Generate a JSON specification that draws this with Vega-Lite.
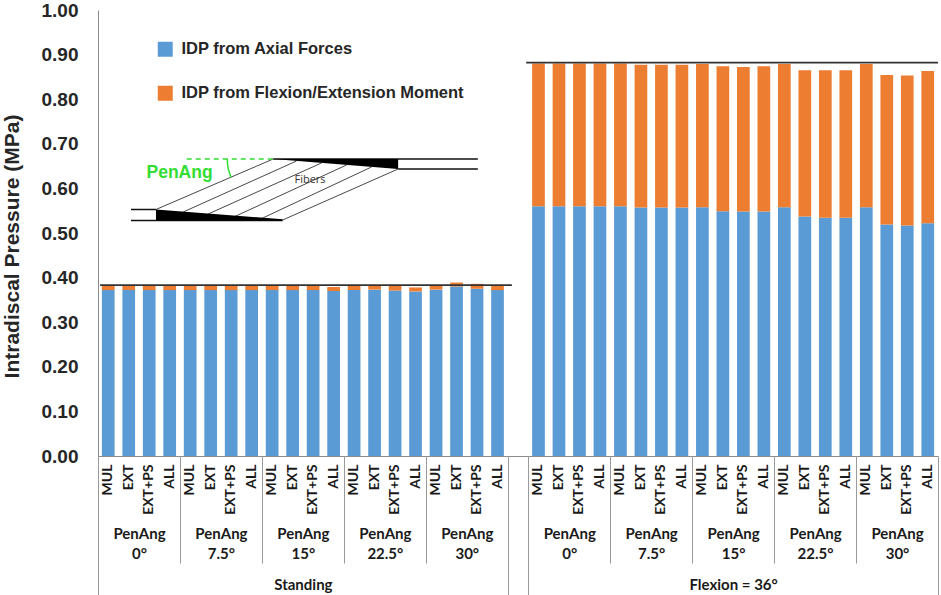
{
  "$schema": "https://vega.github.io/schema/vega-lite/v6.json",
  "width": 840,
  "height": 446,
  "autosize": {"type": "none"},
  "padding": {"left": 98, "top": 10, "right": 3, "bottom": 139},
  "background": "white",
  "config": {"view": {"stroke": null}, "axis": {"grid": false}},
  "datasets": {
    "bars": [
      {"bar": "Standing 0° MUL", "axial": 0.372, "moment": 0.011},
      {"bar": "Standing 0° EXT", "axial": 0.372, "moment": 0.011},
      {"bar": "Standing 0° EXT+PS", "axial": 0.372, "moment": 0.011},
      {"bar": "Standing 0° ALL", "axial": 0.372, "moment": 0.011},
      {"bar": "Standing 7.5° MUL", "axial": 0.372, "moment": 0.011},
      {"bar": "Standing 7.5° EXT", "axial": 0.372, "moment": 0.011},
      {"bar": "Standing 7.5° EXT+PS", "axial": 0.372, "moment": 0.011},
      {"bar": "Standing 7.5° ALL", "axial": 0.372, "moment": 0.011},
      {"bar": "Standing 15° MUL", "axial": 0.372, "moment": 0.011},
      {"bar": "Standing 15° EXT", "axial": 0.372, "moment": 0.011},
      {"bar": "Standing 15° EXT+PS", "axial": 0.372, "moment": 0.011},
      {"bar": "Standing 15° ALL", "axial": 0.370, "moment": 0.009},
      {"bar": "Standing 22.5° MUL", "axial": 0.372, "moment": 0.011},
      {"bar": "Standing 22.5° EXT", "axial": 0.373, "moment": 0.010},
      {"bar": "Standing 22.5° EXT+PS", "axial": 0.371, "moment": 0.012},
      {"bar": "Standing 22.5° ALL", "axial": 0.369, "moment": 0.009},
      {"bar": "Standing 30° MUL", "axial": 0.373, "moment": 0.010},
      {"bar": "Standing 30° EXT", "axial": 0.380, "moment": 0.009},
      {"bar": "Standing 30° EXT+PS", "axial": 0.375, "moment": 0.011},
      {"bar": "Standing 30° ALL", "axial": 0.372, "moment": 0.011},
      {"bar": "Flexion 0° MUL", "axial": 0.560, "moment": 0.320},
      {"bar": "Flexion 0° EXT", "axial": 0.560, "moment": 0.320},
      {"bar": "Flexion 0° EXT+PS", "axial": 0.560, "moment": 0.320},
      {"bar": "Flexion 0° ALL", "axial": 0.560, "moment": 0.320},
      {"bar": "Flexion 7.5° MUL", "axial": 0.560, "moment": 0.320},
      {"bar": "Flexion 7.5° EXT", "axial": 0.557, "moment": 0.320},
      {"bar": "Flexion 7.5° EXT+PS", "axial": 0.557, "moment": 0.320},
      {"bar": "Flexion 7.5° ALL", "axial": 0.557, "moment": 0.320},
      {"bar": "Flexion 15° MUL", "axial": 0.558, "moment": 0.321},
      {"bar": "Flexion 15° EXT", "axial": 0.549, "moment": 0.325},
      {"bar": "Flexion 15° EXT+PS", "axial": 0.548, "moment": 0.324},
      {"bar": "Flexion 15° ALL", "axial": 0.548, "moment": 0.326},
      {"bar": "Flexion 22.5° MUL", "axial": 0.558, "moment": 0.321},
      {"bar": "Flexion 22.5° EXT", "axial": 0.537, "moment": 0.328},
      {"bar": "Flexion 22.5° EXT+PS", "axial": 0.534, "moment": 0.331},
      {"bar": "Flexion 22.5° ALL", "axial": 0.534, "moment": 0.331},
      {"bar": "Flexion 30° MUL", "axial": 0.558, "moment": 0.321},
      {"bar": "Flexion 30° EXT", "axial": 0.519, "moment": 0.335},
      {"bar": "Flexion 30° EXT+PS", "axial": 0.517, "moment": 0.336},
      {"bar": "Flexion 30° ALL", "axial": 0.522, "moment": 0.341}
    ],
    "refs": [
      {"from": 0.1, "to": 20.2, "level": 0.383},
      {"from": 20.9, "to": 41, "level": 0.882}
    ],
    "sketch": [
      {"part": "plate", "x": 8.55, "x2": 18.54, "y": 0.6659, "y2": 0.6659},
      {"part": "plate", "x": 14.65, "x2": 18.54, "y": 0.6435, "y2": 0.6435},
      {"part": "plate", "x": 1.61, "x2": 2.83, "y": 0.5527, "y2": 0.5527},
      {"part": "plate", "x": 1.61, "x2": 9.01, "y": 0.528, "y2": 0.528},
      {"part": "fiber", "x": 2.83, "x2": 8.55, "y": 0.5527, "y2": 0.6659},
      {"part": "fiber", "x": 4.16, "x2": 9.69, "y": 0.5471, "y2": 0.6614},
      {"part": "fiber", "x": 5.38, "x2": 10.91, "y": 0.5426, "y2": 0.657},
      {"part": "fiber", "x": 6.68, "x2": 12.13, "y": 0.537, "y2": 0.6525},
      {"part": "fiber", "x": 7.99, "x2": 13.35, "y": 0.5325, "y2": 0.648},
      {"part": "fiber", "x": 9.01, "x2": 14.65, "y": 0.5291, "y2": 0.6435},
      {"part": "ref", "x": 4.33, "x2": 8.55, "y": 0.6659, "y2": 0.6659}
    ],
    "wedges": [
      {"wedge": "top", "x": 8.55, "y": 0.6659, "y2": 0.6659},
      {"wedge": "top", "x": 14.65, "y": 0.6659, "y2": 0.6435},
      {"wedge": "bottom", "x": 2.83, "y": 0.5527, "y2": 0.528},
      {"wedge": "bottom", "x": 9.01, "y": 0.531, "y2": 0.528}
    ],
    "arc": [
      {"step": 1, "x": 6.31, "y": 0.6659},
      {"step": 2, "x": 6.33, "y": 0.6516},
      {"step": 3, "x": 6.4, "y": 0.6374},
      {"step": 4, "x": 6.5, "y": 0.6251}
    ],
    "notes": [
      {"note": "PenAng", "x": 3.98, "y": 0.6339},
      {"note": "Fibers", "x": 10.35, "y": 0.6188}
    ]
  },
  "resolve": {"scale": {"x": "independent"}},
  "layer": [
    {
      "data": {"name": "bars"},
      "transform": [{"fold": ["axial", "moment"], "as": ["part", "idp"]}],
      "mark": {"type": "bar"},
      "encoding": {
        "x": {
          "field": "bar",
          "type": "nominal",
          "scale": {
            "domain": [
              "Standing 0° MUL", "Standing 0° EXT", "Standing 0° EXT+PS", "Standing 0° ALL",
              "Standing 7.5° MUL", "Standing 7.5° EXT", "Standing 7.5° EXT+PS", "Standing 7.5° ALL",
              "Standing 15° MUL", "Standing 15° EXT", "Standing 15° EXT+PS", "Standing 15° ALL",
              "Standing 22.5° MUL", "Standing 22.5° EXT", "Standing 22.5° EXT+PS", "Standing 22.5° ALL",
              "Standing 30° MUL", "Standing 30° EXT", "Standing 30° EXT+PS", "Standing 30° ALL",
              "gap",
              "Flexion 0° MUL", "Flexion 0° EXT", "Flexion 0° EXT+PS", "Flexion 0° ALL",
              "Flexion 7.5° MUL", "Flexion 7.5° EXT", "Flexion 7.5° EXT+PS", "Flexion 7.5° ALL",
              "Flexion 15° MUL", "Flexion 15° EXT", "Flexion 15° EXT+PS", "Flexion 15° ALL",
              "Flexion 22.5° MUL", "Flexion 22.5° EXT", "Flexion 22.5° EXT+PS", "Flexion 22.5° ALL",
              "Flexion 30° MUL", "Flexion 30° EXT", "Flexion 30° EXT+PS", "Flexion 30° ALL"
            ],
            "paddingInner": 0.38,
            "paddingOuter": 0.19
          },
          "axis": {
            "orient": "bottom",
            "title": null,
            "labelExpr": "datum.value == 'gap' ? '' : split(datum.value, ' ')[2]",
            "labelAngle": -90,
            "labelFont": "Lato",
            "labelFontSize": 14,
            "labelFontWeight": "bold",
            "labelColor": "#1a1a1a",
            "labelPadding": 8,
            "labelOverlap": false,
            "labelBound": false,
            "ticks": false,
            "domainColor": "#8c8c8c"
          }
        },
        "y": {
          "field": "idp",
          "type": "quantitative",
          "stack": "zero",
          "scale": {"domain": [0, 1], "nice": false},
          "axis": {
            "title": "Intradiscal Pressure (MPa)",
            "values": [0, 0.1, 0.2, 0.3, 0.4, 0.5, 0.6, 0.7, 0.8, 0.9, 1],
            "format": ".2f",
            "ticks": false,
            "domainColor": "#8c8c8c",
            "labelFont": "Liberation Sans",
            "labelFontSize": 19,
            "labelFontWeight": "bold",
            "labelColor": "#262626",
            "labelPadding": 20,
            "titleFont": "Liberation Sans",
            "titleFontSize": 21,
            "titleFontWeight": "bold",
            "titleColor": "#262626",
            "titleAngle": 270,
            "titleAlign": "center",
            "titleBaseline": "alphabetic",
            "titleX": -79.5,
            "titleY": 236
          }
        },
        "color": {
          "field": "part",
          "type": "nominal",
          "scale": {"domain": ["axial", "moment"], "range": ["#5B9BD5", "#ED7D31"]},
          "legend": {
            "title": null,
            "orient": "none",
            "legendX": 59,
            "legendY": 31,
            "symbolType": "square",
            "symbolSize": 225,
            "symbolStrokeWidth": 0,
            "labelExpr": "datum.value == 'axial' ? 'IDP from Axial Forces' : 'IDP from Flexion/Extension Moment'",
            "labelFont": "Liberation Sans",
            "labelFontSize": 16.5,
            "labelFontWeight": "bold",
            "labelColor": "#262626",
            "labelOffset": 8,
            "rowPadding": 27,
            "labelLimit": 400
          }
        },
        "order": {"field": "part"}
      }
    },
    {
      "data": {"name": "refs"},
      "mark": {"type": "rule", "color": "#333333", "strokeWidth": 1.8},
      "encoding": {
        "x": {
          "field": "from",
          "type": "quantitative",
          "scale": {"domain": [0, 41], "nice": false, "zero": false},
          "axis": {
            "orient": "bottom",
            "title": null,
            "values": [0, 4, 8, 12, 16, 20, 21, 25, 29, 33, 37, 41],
            "labels": false,
            "domain": false,
            "tickColor": "#9a9a9a",
            "tickWidth": 1,
            "tickSize": {"condition": {"test": "indexof([0, 20, 21, 41], datum.value) >= 0", "value": 139}, "value": 107}
          }
        },
        "x2": {"field": "to"},
        "y": {"field": "level", "type": "quantitative", "scale": {"domain": [0, 1], "nice": false}}
      }
    },
    {
      "data": {"name": "sketch"},
      "transform": [{"filter": "datum.part == 'plate'"}],
      "mark": {"type": "rule", "color": "#111111", "strokeWidth": 1.5},
      "encoding": {
        "x": {
          "field": "x",
          "type": "quantitative",
          "scale": {"domain": [0, 41], "nice": false, "zero": false},
          "axis": {
            "orient": "bottom",
            "title": null,
            "values": [2, 6, 10, 14, 18, 23, 27, 31, 35, 39],
            "ticks": false,
            "domain": false,
            "labelExpr": "['PenAng', ['0°', '7.5°', '15°', '22.5°', '30°'][floor(((datum.value < 20 ? datum.value : datum.value - 21) - 2) / 4)]]",
            "labelFont": "Lato",
            "labelFontSize": 15,
            "labelFontWeight": "bold",
            "labelColor": "#1a1a1a",
            "labelPadding": 70,
            "labelLineHeight": 20,
            "labelOverlap": false,
            "labelBound": false,
            "labelFlush": false
          }
        },
        "x2": {"field": "x2"},
        "y": {"field": "y", "type": "quantitative", "scale": {"domain": [0, 1], "nice": false}},
        "y2": {"field": "y2"}
      }
    },
    {
      "data": {"name": "sketch"},
      "transform": [{"filter": "datum.part == 'fiber'"}],
      "mark": {"type": "rule", "color": "#333333", "strokeWidth": 0.9},
      "encoding": {
        "x": {
          "field": "x",
          "type": "quantitative",
          "scale": {"domain": [0, 41], "nice": false, "zero": false},
          "axis": {
            "orient": "bottom",
            "title": null,
            "values": [10, 31],
            "ticks": false,
            "domain": false,
            "labelExpr": "datum.value < 20 ? 'Standing' : 'Flexion = 36°'",
            "labelFont": "Lato",
            "labelFontSize": 15,
            "labelFontWeight": "bold",
            "labelColor": "#1a1a1a",
            "labelPadding": 121,
            "labelOverlap": false,
            "labelBound": false,
            "labelFlush": false
          }
        },
        "x2": {"field": "x2"},
        "y": {"field": "y", "type": "quantitative", "scale": {"domain": [0, 1], "nice": false}},
        "y2": {"field": "y2"}
      }
    },
    {
      "data": {"name": "sketch"},
      "transform": [{"filter": "datum.part == 'ref'"}],
      "mark": {"type": "rule", "color": "#33dd33", "strokeWidth": 1.5, "strokeDash": [5, 4]},
      "encoding": {
        "x": {"field": "x", "type": "quantitative", "scale": {"domain": [0, 41], "nice": false, "zero": false}, "axis": null},
        "x2": {"field": "x2"},
        "y": {"field": "y", "type": "quantitative", "scale": {"domain": [0, 1], "nice": false}},
        "y2": {"field": "y2"}
      }
    },
    {
      "data": {"name": "wedges"},
      "mark": {"type": "area", "color": "#000000", "opacity": 1},
      "encoding": {
        "x": {"field": "x", "type": "quantitative", "scale": {"domain": [0, 41], "nice": false, "zero": false}, "axis": null},
        "y": {"field": "y", "type": "quantitative", "scale": {"domain": [0, 1], "nice": false}},
        "y2": {"field": "y2"},
        "detail": {"field": "wedge"}
      }
    },
    {
      "data": {"name": "arc"},
      "mark": {"type": "line", "color": "#33dd33", "strokeWidth": 1.5, "interpolate": "monotone"},
      "encoding": {
        "x": {"field": "x", "type": "quantitative", "scale": {"domain": [0, 41], "nice": false, "zero": false}, "axis": null},
        "y": {"field": "y", "type": "quantitative", "scale": {"domain": [0, 1], "nice": false}},
        "order": {"field": "step"}
      }
    },
    {
      "data": {"name": "notes"},
      "transform": [{"filter": "datum.note == 'PenAng'"}],
      "mark": {"type": "text", "color": "#33dd33", "font": "Liberation Sans", "fontSize": 17.5, "fontWeight": "bold", "align": "center", "baseline": "middle"},
      "encoding": {
        "x": {"field": "x", "type": "quantitative", "scale": {"domain": [0, 41], "nice": false, "zero": false}, "axis": null},
        "y": {"field": "y", "type": "quantitative", "scale": {"domain": [0, 1], "nice": false}},
        "text": {"field": "note"}
      }
    },
    {
      "data": {"name": "notes"},
      "transform": [{"filter": "datum.note == 'Fibers'"}],
      "mark": {"type": "text", "color": "#333333", "font": "Open Sans", "fontSize": 11, "align": "center", "baseline": "middle"},
      "encoding": {
        "x": {"field": "x", "type": "quantitative", "scale": {"domain": [0, 41], "nice": false, "zero": false}, "axis": null},
        "y": {"field": "y", "type": "quantitative", "scale": {"domain": [0, 1], "nice": false}},
        "text": {"field": "note"}
      }
    }
  ]
}
